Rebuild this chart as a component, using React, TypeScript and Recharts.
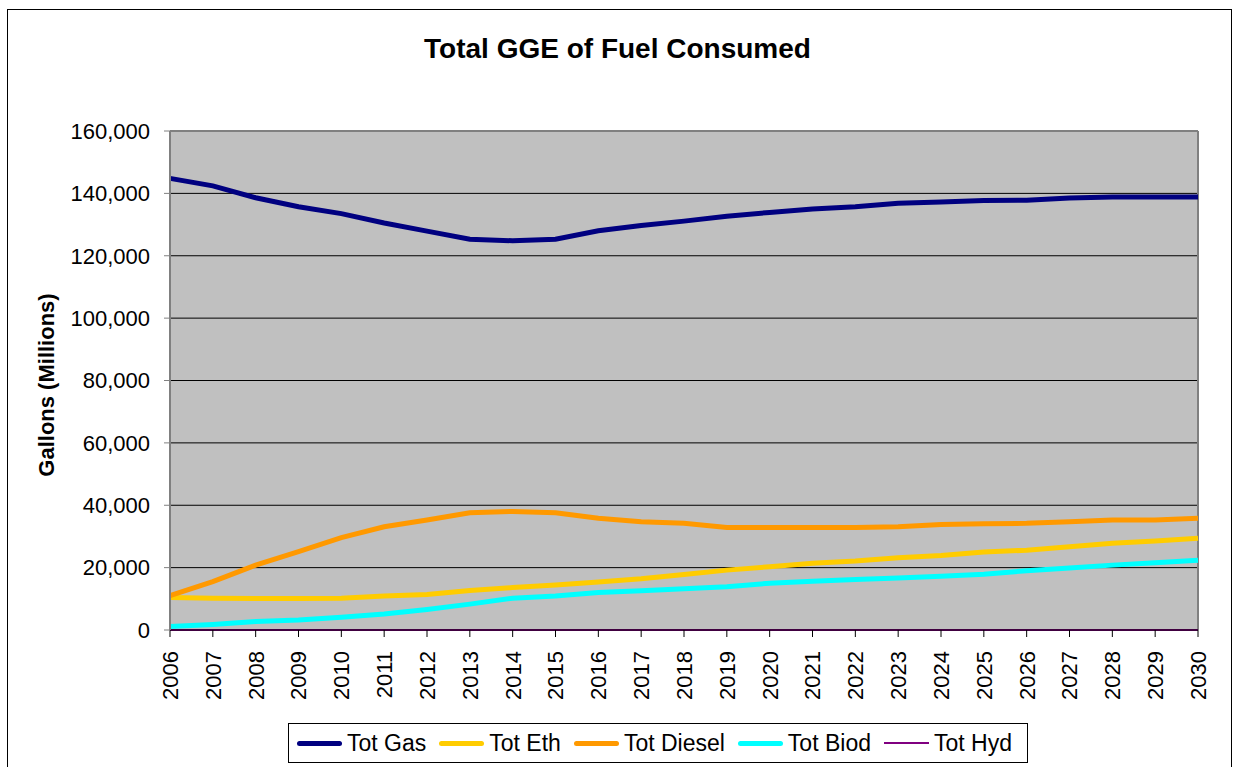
import { LineChart, Line, XAxis, YAxis, CartesianGrid, ReferenceLine } from "recharts";

const years = [
  "2006", "2007", "2008", "2009", "2010", "2011", "2012", "2013", "2014", "2015", "2016", "2017", "2018",
  "2019", "2020", "2021", "2022", "2023", "2024", "2025", "2026", "2027", "2028", "2029", "2030",
];

const totGas = [
  144800, 142400, 138600, 135700, 133500, 130500, 127900, 125300, 124800, 125300, 128000, 129700, 131100,
  132700, 133900, 135000, 135700, 136800, 137200, 137700, 137800, 138500, 138800, 138800, 138800,
];
const totEth = [
  10400, 10200, 10100, 10100, 10200, 10900, 11400, 12700, 13600, 14400, 15400, 16400, 17800,
  19200, 20300, 21400, 22100, 23200, 23900, 25000, 25600, 26700, 27800, 28500, 29400,
];
const totDiesel = [
  11000, 15500, 20800, 25100, 29600, 33100, 35300, 37600, 38000, 37600, 35800, 34700, 34200,
  32900, 32900, 32900, 32900, 33100, 33800, 34100, 34200, 34700, 35300, 35300, 35800,
];
const totBiod = [
  1100, 1800, 2700, 3200, 4100, 5100, 6600, 8300, 10200, 10900, 12000, 12600, 13200,
  13900, 15000, 15600, 16200, 16700, 17200, 17900, 19000, 19900, 20800, 21600, 22400,
];
const totHyd = [
  0, 0, 0, 0, 0, 0, 0, 0, 0, 0, 0, 0, 0,
  0, 0, 0, 0, 0, 0, 0, 0, 0, 0, 0, 0,
];

const yTicks = [0, 20000, 40000, 60000, 80000, 100000, 120000, 140000, 160000];

const series = [
  { key: "gas", name: "Tot Gas", color: "#000080", width: 5 },
  { key: "eth", name: "Tot Eth", color: "#FFCC00", width: 5 },
  { key: "diesel", name: "Tot Diesel", color: "#FF9900", width: 5 },
  { key: "biod", name: "Tot Biod", color: "#00FFFF", width: 5 },
  { key: "hyd", name: "Tot Hyd", color: "#800080", width: 2 },
];

const data = years.map((y, i) => ({
  year: y,
  gas: totGas[i],
  eth: totEth[i],
  diesel: totDiesel[i],
  biod: totBiod[i],
  hyd: totHyd[i],
}));

const FONT = "'Liberation Sans', Arial, sans-serif";

function YearTick(props: any) {
  const { x, y, payload } = props;
  return (
    <g transform={`translate(${x},${y + 12}) rotate(-90)`}>
      <text x={0} y={0} dy="0.36em" textAnchor="end" fontSize={22} fontFamily={FONT} fill="#000">
        {payload.value}
      </text>
    </g>
  );
}

export default function App() {
  return (
    <div style={{ position: "fixed", left: 0, top: 0, width: 1235, height: 767, background: "#fff", fontFamily: FONT, overflow: "hidden" }}>
      <div style={{ position: "absolute", left: 7, top: 9, width: 1225, height: 800, border: "1px solid #000", boxSizing: "border-box" }} />
      <div style={{ position: "absolute", left: 0, top: 33, width: 1235, textAlign: "center", fontSize: 28, fontWeight: "bold", color: "#000" }}>
        Total GGE of Fuel Consumed
      </div>
      <div
        style={{
          position: "absolute",
          left: 47,
          top: 385,
          transform: "translate(-50%, -50%) rotate(-90deg)",
          whiteSpace: "nowrap",
          fontSize: 22,
          fontWeight: "bold",
          color: "#000",
        }}
      >
        Gallons (Millions)
      </div>
      <div style={{ position: "absolute", left: 0, top: 0 }}>
        <LineChart width={1235} height={767} data={data} margin={{ top: 131, right: 37, bottom: 0, left: 0 }}>
          <CartesianGrid vertical={false} stroke="#000" fill="#C0C0C0" fillOpacity={1} />
          <XAxis
            dataKey="year"
            height={137}
            interval={0}
            tick={<YearTick />}
            tickSize={7}
            tickLine={{ stroke: "#000" }}
            axisLine={{ stroke: "#000" }}
          />
          <YAxis
            width={170}
            domain={[0, 160000]}
            ticks={yTicks}
            interval={0}
            tickSize={6}
            tickMargin={14}
            tickFormatter={(v: number) => v.toLocaleString("en-US")}
            tick={{ fontSize: 22, fontFamily: FONT, fill: "#000" }}
            tickLine={{ stroke: "#808080" }}
            axisLine={{ stroke: "#808080", strokeWidth: 2 }}
          />
          <ReferenceLine y={160000} stroke="#808080" strokeWidth={2} />
          <ReferenceLine x="2030" stroke="#808080" strokeWidth={2} />
          {series.map((s) => (
            <Line
              key={s.key}
              type="linear"
              dataKey={s.key}
              name={s.name}
              stroke={s.color}
              strokeWidth={s.width}
              dot={false}
              activeDot={false}
              isAnimationActive={false}
            />
          ))}
        </LineChart>
      </div>
      <div
        style={{
          position: "absolute",
          left: 288,
          top: 723,
          width: 740,
          height: 40,
          border: "1px solid #000",
          boxSizing: "border-box",
          display: "flex",
          alignItems: "center",
          paddingLeft: 8,
          fontSize: 23,
          color: "#000",
          background: "#fff",
        }}
      >
        {series.map((s) => (
          <div key={s.key} style={{ display: "flex", alignItems: "center", marginRight: 13 }}>
            <div style={{ width: 45, height: s.width, background: s.color, borderRadius: s.width > 2 ? 3 : 0, marginRight: 5 }} />
            <span>{s.name}</span>
          </div>
        ))}
      </div>
    </div>
  );
}
